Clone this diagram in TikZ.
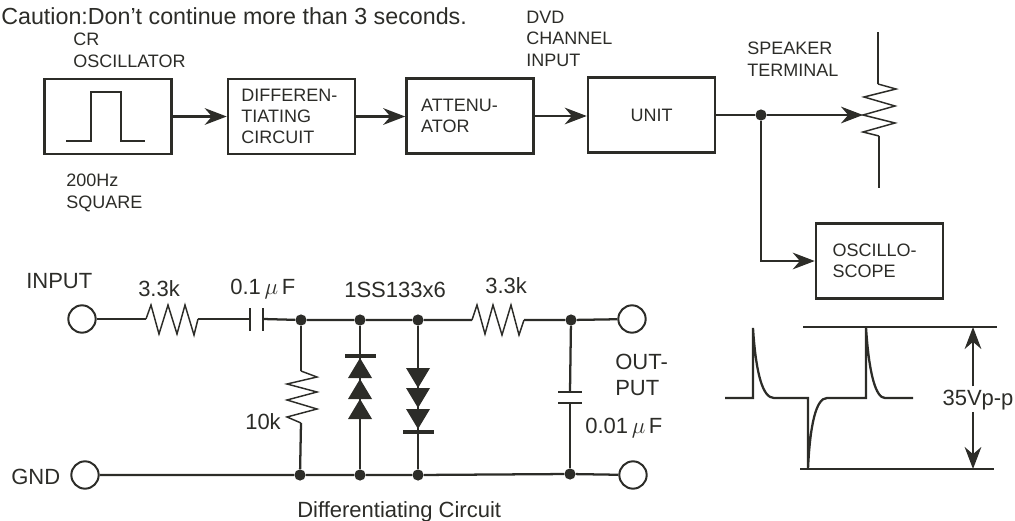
\documentclass[tikz,border=0pt]{standalone}
\usepackage{fontspec}
\setmainfont{Liberation Sans}
\usetikzlibrary{arrows.meta}
\definecolor{inkgray}{RGB}{44,44,40}
\tikzset{
  blockbox/.style={draw=inkgray, line width=1.9pt, minimum width=95.25pt, minimum height=56.25pt, inner sep=0pt, font=\fontsize{13.5}{15.8}\selectfont, text=inkgray},
  lefttext/.style={inner xsep=#1, text width=95.25pt-2*#1, align=left},
  wire/.style={draw=inkgray, line width=1.7pt},
  thinwire/.style={draw=inkgray, line width=1.1pt},
  flow/.style={wire, -{Stealth[length=16.5pt,width=12.5pt]}},
  junction/.style={circle, fill=inkgray, inner sep=0pt, minimum size=8.4pt},
  terminal/.style={circle, draw=inkgray, line width=1.5pt, inner sep=0pt, minimum size=20.5pt},
  tag/.style={anchor=base west, inner sep=0pt, align=left, text=inkgray, font=\fontsize{13.5}{15.8}\selectfont},
  bigtag/.style={anchor=base west, inner sep=0pt, align=left, text=inkgray, font=\fontsize{16.5}{19.5}\selectfont},
  diodehead/.style={fill=inkgray, draw=none}
}
\begin{document}
\begin{tikzpicture}[x=0.75pt, y=-0.75pt]
  \useasboundingbox (0,0) rectangle (1015,521);
  \node[tag, font=\fontsize{17.45}{20}\selectfont] (caution) at (1,25) {Caution:Don't continue more than 3 seconds.};
  % blocks along the top
  \node[blockbox] (osc) at (108,116.5) {};
  \node[blockbox, lefttext=10pt] (diff) at (291.5,116.5) {DIFFEREN-\\TIATING\\CIRCUIT};
  \node[blockbox, lefttext=11pt] (att) at (470,116) {ATTENU-\\ATOR};
  \node[blockbox] (unit) at (651.5,115) {UNIT};
  \node[blockbox, lefttext=12.5pt] (scope) at (879.5,261) {OSCILLO-\\SCOPE};
  \node[tag] (crlabel) at (73,67) {CR\\OSCILLATOR};
  \node[tag] (hzlabel) at (66,208) {200Hz\\SQUARE};
  \node[tag] (dvdlabel) at (526,66) {DVD\\CHANNEL\\INPUT};
  \node[tag] (spklabel) at (747,76) {SPEAKER\\TERMINAL};
  \draw[wire] (66,141) -- (91,141) -- (91,92) -- (121,92) -- (121,141) -- (145,141);
  \draw[flow] (osc.east) -- (diff.west);
  \draw[flow] (diff.east) -- (att.west |- diff.east);
  \draw[flow] (att.east) -- (unit.west |- att.east);
  \node[junction] (tap) at (761,115) {};
  \coordinate (wiper) at (863,115);
  \draw[wire] (unit.east) -- (tap);
  \draw[flow] (tap) -- (wiper);
  \draw[flow] (tap) |- (scope.west);
  \draw[wire] (878,32) -- (878,84);
  \draw[thinwire] (878,84) -- (896,89) -- (864,97) -- (895,106) -- (wiper) -- (895,123) -- (863,132) -- (879,136);
  \draw[wire] (879,136) -- (879,188);
  % differentiating circuit
  \node[terminal] (in) at (82,319) {};
  \node[terminal] (gnd) at (85,475) {};
  \node[terminal] (out) at (632,319) {};
  \node[terminal] (ret) at (633,475) {};
  \node[junction] (n1) at (301,320) {};
  \node[junction] (n2) at (360,320) {};
  \node[junction] (n3) at (418,320) {};
  \node[junction] (n4) at (571,320) {};
  \node[junction] (g1) at (300,475) {};
  \node[junction] (g2) at (360,475) {};
  \node[junction] (g3) at (418,475) {};
  \node[junction] (g4) at (570,474) {};
  \coordinate (capa) at (250,319);
  \coordinate (capb) at (263,319);
  \draw[wire] (in) -- (146,319);
  \draw[thinwire] (146,319) -- (151,305) -- (159,334) -- (168,305) -- (177,334) -- (185,305) -- (194,335) -- (198,319);
  \draw[wire] (198,319) -- (capa);
  \draw[wire] (250,308) -- (250,331);
  \draw[wire] (263,308) -- (263,331);
  \draw[wire] (capb) -- (n1) -- (n2) -- (n3) -- (472,320);
  \draw[thinwire] (472,320) -- (477,305) -- (485,334) -- (493,305) -- (502,335) -- (511,305) -- (519,335) -- (524,320);
  \draw[wire] (524,320) -- (n4) -- (out);
  \draw[wire] (gnd) -- (g1) -- (g2) -- (g3) -- (g4) -- (ret);
  \draw[wire] (n1) -- (301,371);
  \draw[thinwire] (301,371) -- (317,377) -- (287,384) -- (317,392) -- (287,400) -- (317,409) -- (287,417) -- (301,423);
  \draw[wire] (301,423) -- (g1);
  \draw[wire] (n2) -- (g2);
  \draw[line width=3.4pt, draw=inkgray] (345,356) -- (376,356);
  \fill[diodehead] (360,358) -- (372,378) -- (348,378) -- cycle;
  \fill[diodehead] (360,379) -- (372,399) -- (348,399) -- cycle;
  \fill[diodehead] (360,399) -- (372,419) -- (348,419) -- cycle;
  \draw[wire] (n3) -- (g3);
  \fill[diodehead] (406,368) -- (430,368) -- (418,388) -- cycle;
  \fill[diodehead] (406,388) -- (430,388) -- (418,408) -- cycle;
  \fill[diodehead] (406,409) -- (430,409) -- (418,429) -- cycle;
  \draw[line width=3.4pt, draw=inkgray] (403,432) -- (434,432);
  \draw[wire] (n4) -- (570,392);
  \draw[wire] (558,392) -- (582,392);
  \draw[wire] (558,403) -- (582,403);
  \draw[wire] (570,403) -- (g4);
  \node[bigtag] (inlabel) at (26,288) {INPUT};
  \node[bigtag] (gndlabel) at (11,484) {GND};
  \node[bigtag] (r1label) at (138,296) {3.3k};
  \node[bigtag] (c1label) at (230,294) {0.1\,$\mu$\,F};
  \node[bigtag] (dlabel) at (344,297) {1SS133x6};
  \node[bigtag] (r2label) at (485,293) {3.3k};
  \node[bigtag] (r3label) at (245,429) {10k};
  \node[bigtag] (outlabel) at (615,395) {OUT-\\PUT};
  \node[bigtag] (c2label) at (585,433) {0.01\,$\mu$\,F};
  \node[bigtag] (title) at (297,517) {Differentiating Circuit};
  % output waveform
  \coordinate (top) at (973,327);
  \coordinate (bot) at (973,469);
  \draw[wire] (725,398) -- (753,398) -- (753,328) .. controls (756,375) and (763,398) .. (774,398) -- (808,398) -- (808,469) .. controls (810,425) and (816,398) .. (827,398) -- (866,398) -- (866,327) .. controls (869,375) and (876,398) .. (885,398) -- (913,398);
  \draw[wire] (803,327) -- (997,327);
  \draw[wire] (800,469) -- (994,469);
  \node[bigtag, anchor=base] (vpp) at (978,405) {35Vp-p};
  \draw[flow] (vpp.north -| top) ++(0,-3) -- (top);
  \draw[flow] (vpp.south -| bot) ++(0,2) -- (bot);
\end{tikzpicture}
\end{document}
